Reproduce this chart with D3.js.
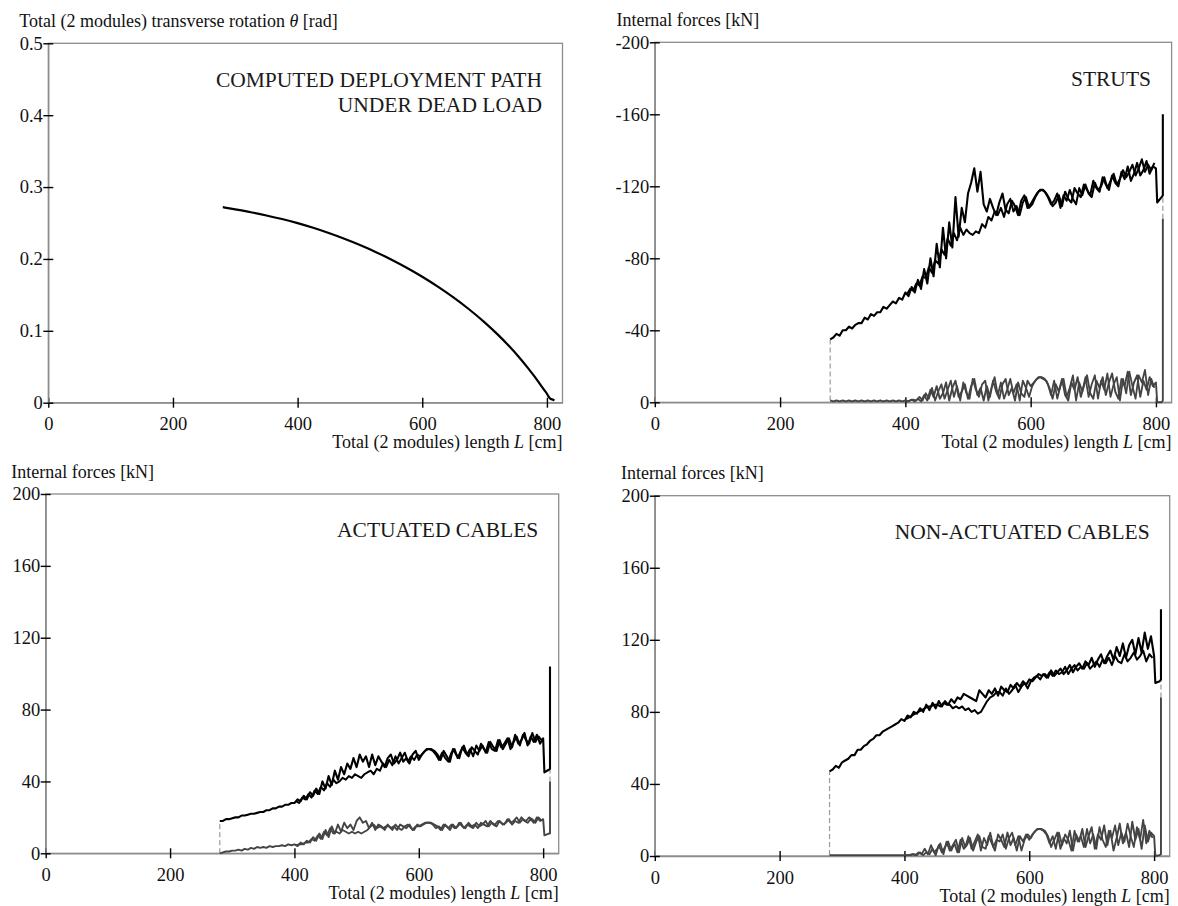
<!DOCTYPE html>
<html>
<head>
<meta charset="utf-8">
<script src="https://cdn.jsdelivr.net/npm/d3@7"></script>
<style>
  body { margin: 0; background: #fff; }
  svg { display: block; }
</style>
</head>
<body>
<svg id="chart" width="1178" height="906"></svg>
<script>
// ---- data ----
const xTicks = [0, 200, 400, 600, 800];

// deployment path: theta [rad] vs total length L [cm]
const thetaL = [280, 300, 325, 350, 375, 400, 425, 450, 475, 500, 525, 550, 575, 600, 625, 650, 675, 700, 720, 740, 755, 770, 780, 790, 797, 800, 802, 805, 810, 812];
const theta  = [0.272, 0.269, 0.265, 0.2605, 0.2555, 0.2498, 0.2433, 0.236, 0.228, 0.2193, 0.2098, 0.1993, 0.1878, 0.1753, 0.1615, 0.1465, 0.130, 0.1118, 0.0958, 0.0782, 0.0637, 0.0478, 0.0365, 0.0245, 0.0161, 0.0125, 0.0095, 0.006, 0.004, 0.003];

// force histories: trace A sampled every 5 cm from 280 to 800 (+ tail),
// trace B (second member) every 5 cm from 402.5 to 797.5
const tailL = [802, 809, 811, 811];

const strutsBlackA = [
  -35, -36, -38, -37, -40, -40, -42, -41, -43, -44,
  -44, -47, -46, -49, -48, -50, -50, -53, -52, -54,
  -56, -55, -58, -57, -61, -59, -64, -61, -68, -63,
  -74, -66, -80, -70, -88, -75, -97, -80, -100, -86,
  -114, -92, -108, -100, -116, -122, -130, -117, -128, -110,
  -106, -113, -108, -104, -111, -116, -107, -105, -112, -109,
  -104, -112, -115, -108, -110, -113, -116, -118, -118, -116,
  -113, -109, -111, -115, -109, -117, -113, -111, -119, -116,
  -114, -121, -118, -115, -123, -119, -117, -125, -121, -118,
  -126, -122, -120, -128, -124, -131, -123, -127, -133, -126,
  -129, -134, -127, -131, -130];
const strutsBlackTail = [-111, -114, -115, -160];
const strutsBlackB = [
  -60, -63, -62, -66, -65, -70, -69, -75, -72, -79,
  -77, -85, -82, -91, -87, -94, -90, -97, -93, -96,
  -94, -93, -95, -94, -99, -97, -103, -101, -106, -104,
  -108, -103, -110, -113, -106, -109, -104, -111, -114, -108,
  -110, -114, -117, -118, -117, -114, -110, -112, -116, -108,
  -115, -112, -118, -113, -110, -119, -115, -121, -116, -114,
  -122, -118, -120, -125, -119, -123, -127, -121, -124, -129,
  -125, -128, -132, -126, -130, -135, -128, -132, -129, -133];
const strutsGrayA = [
  -1, -0.5, -1, -0.5, -1, -0.5, -1, -0.5, -1, -0.5,
  -1, -0.5, -1, -0.5, -1, -0.5, -1, -0.5, -1, -0.5,
  -1, -0.5, -1, -0.5, -1, -0.5, -1.5, -0.5, -2, -0.5,
  -4, -1, -7, -3, -9, -2, -5, -11, -1, -8,
  -12, -3, -6, -10, -2, -9, -13, -4, -8, -1,
  -9, -3, -12, -6, -2, -10, -13, -4, -8, -1,
  -11, -5, -3, -12, -9, -11, -13, -14, -13, -12,
  -8, -2, -10, -6, -13, -4, -1, -11, -7, -14,
  -3, -9, -15, -5, -2, -12, -8, -14, -4, -11,
  -16, -6, -2, -13, -9, -17, -4, -11, -15, -3,
  -12, -7, -14, -9, -11];
const strutsGrayTail = [0, 0, -1, -102];
const strutsGrayB = [
  -0.5, -1, -1.5, -1, -3, -1, -5, -2, -8, -1,
  -6, -10, -2, -7, -12, -3, -9, -1, -11, -5,
  -2, -13, -7, -3, -10, -12, -1, -8, -14, -4,
  -11, -2, -7, -13, -5, -10, -1, -12, -8, -3,
  -9, -12, -14, -14, -13, -10, -4, -12, -2, -9,
  -13, -3, -8, -15, -1, -11, -6, -14, -3, -10,
  -15, -2, -12, -7, -16, -3, -10, -14, -1, -13,
  -5, -17, -9, -2, -15, -11, -18, -4, -13, -8];

const actuatedBlackA = [
  18, 18, 19, 19, 19.5, 20, 20, 21, 21, 21.5,
  22, 22, 22.5, 23, 23, 24, 24, 25, 25, 26,
  26, 27, 27, 28, 28, 30, 29, 32, 30, 34,
  32, 36, 33, 40, 36, 43, 38, 46, 41, 48,
  44, 50, 47, 53, 48, 55, 51, 54, 48, 55,
  49, 54, 51, 48, 53, 55, 50, 52, 56, 51,
  53, 50, 55, 57, 52, 55, 57, 58, 58, 57,
  55, 52, 57, 54, 51, 58, 55, 53, 59, 56,
  54, 59, 57, 55, 61, 58, 56, 62, 59, 57,
  63, 58, 61, 64, 59, 66, 61, 63, 67, 60,
  65, 62, 66, 61, 64];
const actuatedBlackTail = [45, 46.5, 47, 104];
const actuatedBlackB = [
  29, 28, 31, 30, 33, 31, 35, 33, 37, 35,
  39, 37, 41, 39, 40, 42, 41, 43, 42, 44,
  43, 42, 44, 45, 46, 44, 47, 46, 50, 48,
  52, 49, 54, 50, 53, 56, 51, 54, 52, 55,
  54, 56, 58, 58, 57, 55, 52, 56, 53, 51,
  56, 58, 53, 57, 60, 55, 58, 54, 60, 57,
  60, 56, 62, 58, 57, 63, 59, 61, 64, 58,
  62, 65, 60, 66, 63, 61, 67, 62, 65, 63];
const actuatedGrayA = [
  0, 0.5, 1, 1, 1.5, 1.5, 2, 1.5, 2.5, 2,
  3, 2.5, 3.5, 3, 3.5, 3, 4, 3.5, 4, 4,
  4.5, 4, 5, 4.5, 5, 4, 6, 5, 7, 6,
  9, 7, 11, 8, 13, 9, 15, 11, 16, 12,
  17, 14, 16, 13, 18, 20, 17, 18, 14, 17,
  13, 16, 15, 13, 16, 14, 15, 13, 16, 15,
  14, 16, 13, 15, 15, 16, 17, 17, 17, 16,
  15, 13, 16, 15, 13, 16, 14, 17, 15, 14,
  17, 15, 16, 14, 17, 16, 15, 18, 16, 15,
  18, 16, 17, 19, 16, 18, 17, 20, 18, 17,
  19, 17, 20, 18, 19];
const actuatedGrayTail = [10, 11, 11, 40];
const actuatedGrayB = [
  4.5, 5, 5, 6, 6, 8, 7, 10, 8, 12,
  10, 14, 11, 12, 11, 13, 12, 11, 12, 11,
  12, 11, 12, 13, 15, 16, 14, 15, 14, 15,
  15, 13, 16, 14, 13, 15, 16, 14, 13, 16,
  15, 16, 17, 17, 16, 14, 15, 13, 16, 14,
  16, 14, 15, 17, 14, 16, 15, 14, 17, 15,
  16, 18, 15, 17, 16, 18, 17, 16, 19, 17,
  18, 20, 17, 19, 18, 20, 19, 17, 20, 18];

const nonActBlackA = [
  47, 48, 50, 49, 52, 53, 54, 56, 56, 59,
  59, 61, 62, 64, 65, 67, 67, 69, 70, 71,
  72, 73, 74, 76, 75, 78, 77, 80, 79, 82,
  80, 84, 81, 85, 82, 86, 83, 86, 84, 87,
  85, 88, 87, 90, 89, 88, 87, 86, 92, 90,
  88, 92, 90, 93, 89, 94, 92, 91, 95, 93,
  96, 94, 97, 95, 98, 97, 99, 101, 100, 101,
  99, 103, 100, 102, 104, 101, 103, 106, 102, 105,
  107, 104, 108, 106, 110, 105, 109, 112, 107, 111,
  114, 109, 116, 111, 118, 110, 117, 120, 112, 121,
  113, 124, 115, 122, 111];
const nonActBlackTail = [96, 97, 98, 137];
const nonActBlackB = [
  76, 77, 78, 79, 80, 81, 82, 83, 83, 84,
  84, 83, 85, 84, 84, 82, 83, 82, 83, 81,
  82, 80, 81, 79, 80, 83, 86, 88, 89, 91,
  91, 89, 93, 90, 92, 95, 91, 94, 96, 93,
  97, 99, 100, 98, 101, 99, 102, 100, 103, 101,
  102, 105, 101, 104, 106, 103, 105, 104, 107, 104,
  106, 108, 105, 109, 107, 110, 106, 111, 108, 107,
  112, 108, 110, 113, 109, 111, 114, 108, 112, 110];
const nonActGrayA = [
  0.5, 0.5, 0.5, 0.5, 0.5, 0.5, 0.5, 0.5, 0.5, 0.5,
  0.5, 0.5, 0.5, 0.5, 0.5, 0.5, 0.5, 0.5, 0.5, 0.5,
  0.5, 0.5, 0.5, 0.5, 0.5, 0.5, 0.5, 1, 0.5, 2,
  0.5, 2, 1, 4, 0.5, 6, 2, 5, 8, 3,
  7, 2, 9, 4, 6, 10, 3, 8, 11, 5,
  4, 11, 7, 3, 12, 9, 5, 13, 6, 10,
  3, 11, 8, 12, 9, 12, 14, 15, 15, 14,
  11, 5, 9, 13, 4, 10, 7, 14, 3, 12,
  8, 15, 5, 11, 16, 4, 12, 9, 17, 6,
  14, 3, 10, 18, 7, 13, 5, 19, 9, 15,
  4, 17, 8, 13, 11];
const nonActGrayTail = [0, 0.5, 1, 88];
const nonActGrayB = [
  0.5, 0.5, 1, 0.5, 2, 1, 4, 1, 6, 2,
  4, 7, 1, 8, 3, 6, 9, 2, 10, 5,
  11, 4, 8, 12, 3, 10, 6, 13, 5, 9,
  8, 12, 4, 10, 13, 6, 11, 3, 9, 12,
  10, 13, 15, 15, 14, 12, 7, 11, 4, 13,
  6, 12, 9, 3, 14, 8, 11, 5, 15, 7,
  12, 4, 16, 9, 5, 14, 10, 17, 6, 13,
  8, 18, 11, 5, 16, 9, 20, 7, 14, 10];

// ---- drawing ----
const FONT = '"Liberation Serif", "Times New Roman", serif';
const svg = d3.select("#chart").attr("font-family", FONT);
const gridA = d3.range(280, 801, 5);
const gridB = d3.range(402.5, 800, 5);

const forcePanels = [
  {
    box: [654.8, 1171.6, 42.3, 402.3], yDomain: [0, -200], yTicks: [0, -40, -80, -120, -160, -200],
    yTitleX: 616.4, label: ["STRUTS"], labelX: 1151, labelY: 85.5,
    blackA: strutsBlackA, blackTail: strutsBlackTail, blackB: strutsBlackB,
    grayA: strutsGrayA, grayTail: strutsGrayTail, grayB: strutsGrayB,
  },
  {
    box: [45.7, 558.7, 494, 853.3], yDomain: [0, 200], yTicks: [0, 40, 80, 120, 160, 200],
    yTitleX: 11.2, label: ["ACTUATED CABLES"], labelX: 538.3, labelY: 537.3,
    blackA: actuatedBlackA, blackTail: actuatedBlackTail, blackB: actuatedBlackB,
    grayA: actuatedGrayA, grayTail: actuatedGrayTail, grayB: actuatedGrayB,
  },
  {
    box: [654.8, 1169.7, 495.7, 856], yDomain: [0, 200], yTicks: [0, 40, 80, 120, 160, 200],
    yTitleX: 620.9, label: ["NON-ACTUATED CABLES"], labelX: 1149.7, labelY: 539,
    blackA: nonActBlackA, blackTail: nonActBlackTail, blackB: nonActBlackB,
    grayA: nonActGrayA, grayTail: nonActGrayTail, grayB: nonActGrayB,
  },
];

function drawFrame(box, yDomain, yTicks) {
  const [x0, x1, y0, y1] = box;
  const x = d3.scaleLinear().domain([0, 825]).range([x0, x1]);
  const y = d3.scaleLinear().domain(yDomain).range([y1, y0]);
  const g = svg.append("g");

  g.append("rect")
    .attr("x", x0).attr("y", y0)
    .attr("width", x1 - x0).attr("height", y1 - y0)
    .attr("fill", "none").attr("stroke", "#8c8c8c").attr("stroke-width", 1.3);

  const xAxis = g.append("g")
    .attr("transform", `translate(0,${y1})`)
    .call(d3.axisBottom(x).tickValues(xTicks).tickSize(5).tickSizeOuter(0).tickPadding(9.5).tickFormat(d => String(d)));
  const yAxis = g.append("g")
    .attr("transform", `translate(${x0},0)`)
    .call(d3.axisLeft(y).tickValues(yTicks).tickSize(5).tickSizeOuter(0).tickPadding(0.5).tickFormat(d => String(d)));

  [xAxis, yAxis].forEach(ax => {
    ax.attr("font-family", FONT).attr("font-size", 18.5);
    ax.select(".domain").attr("stroke", "#8c8c8c").attr("stroke-width", 1.3);
    ax.selectAll(".tick line").attr("stroke", "#000").attr("stroke-width", 1.4);
    ax.selectAll(".tick text").attr("fill", "#111");
  });
  // ticks cross the axis line
  xAxis.selectAll(".tick line").attr("y1", -5);
  yAxis.selectAll(".tick line").attr("x1", 5);

  // x title, right-aligned under the tick labels
  const xt = g.append("text")
    .attr("x", x1).attr("y", y1 + 45.5)
    .attr("text-anchor", "end").attr("font-size", 18).attr("fill", "#111");
  xt.append("tspan").text("Total (2 modules) length ");
  xt.append("tspan").attr("font-style", "italic").text("L");
  xt.append("tspan").text(" [cm]");

  return {g, x, y};
}

function addLabel(g, lines, lx, ly) {
  lines.forEach((t, i) => {
    g.append("text")
      .attr("x", lx).attr("y", ly + i * 25)
      .attr("text-anchor", "end")
      .attr("font-size", 21.5).attr("fill", "#1a1a1a")
      .text(t);
  });
}

// panel 1: deployment path
{
  const box = [48.3, 562.5, 43.3, 402.7];
  const {g, x, y} = drawFrame(box, [0, 0.5], [0, 0.1, 0.2, 0.3, 0.4, 0.5]);

  const yt = g.append("text")
    .attr("x", 19.3).attr("y", box[2] - 16.5)
    .attr("font-size", 18).attr("fill", "#111");
  yt.append("tspan").text("Total (2 modules) transverse rotation ");
  yt.append("tspan").attr("font-style", "italic").text("θ");
  yt.append("tspan").text(" [rad]");

  addLabel(g, ["COMPUTED DEPLOYMENT PATH", "UNDER DEAD LOAD"], 542, 87);

  const pathLine = d3.line()
    .x((d, i) => x(thetaL[i]))
    .y(d => y(d))
    .curve(d3.curveMonotoneX);
  g.append("path")
    .attr("d", pathLine(theta))
    .attr("fill", "none").attr("stroke", "#000").attr("stroke-width", 2.2)
    .attr("stroke-linejoin", "round");
}

// panels 2-4: internal forces
forcePanels.forEach(p => {
  const {g, x, y} = drawFrame(p.box, p.yDomain, p.yTicks);

  g.append("text")
    .attr("x", p.yTitleX).attr("y", p.box[2] - 16.5)
    .attr("font-size", 18).attr("fill", "#111")
    .text("Internal forces [kN]");

  addLabel(g, p.label, p.labelX, p.labelY);

  const line = d3.line().x(d => x(d[0])).y(d => y(d[1]));
  const traceA = (vals, tail) => gridA.map((L, i) => [L, vals[i]])
    .concat(tail.map((v, i) => [tailL[i], v]));
  const traceB = vals => gridB.map((L, i) => [L, vals[i]]);

  // dashed jumps between the gray and black histories
  const links = [
    [[gridA[0], p.grayA[0]], [gridA[0], p.blackA[0]]],
    [[tailL[3], p.grayTail[3]], [tailL[2], p.blackTail[2]]],
  ];
  g.selectAll(".link").data(links).join("path")
    .attr("class", "link")
    .attr("d", line)
    .attr("fill", "none").attr("stroke", "#9a9a9a")
    .attr("stroke-width", 1.2).attr("stroke-dasharray", "5,3");

  const drawTrace = (pts, color, w) => g.append("path")
    .attr("d", line(pts))
    .attr("fill", "none").attr("stroke", color).attr("stroke-width", w)
    .attr("stroke-linejoin", "round");

  drawTrace(traceA(p.grayA, p.grayTail), "#444", 1.9);
  drawTrace(traceB(p.grayB), "#444", 1.8);
  drawTrace(traceA(p.blackA, p.blackTail), "#000", 2.1);
  drawTrace(traceB(p.blackB), "#000", 2.0);
});
</script>
</body>
</html>
